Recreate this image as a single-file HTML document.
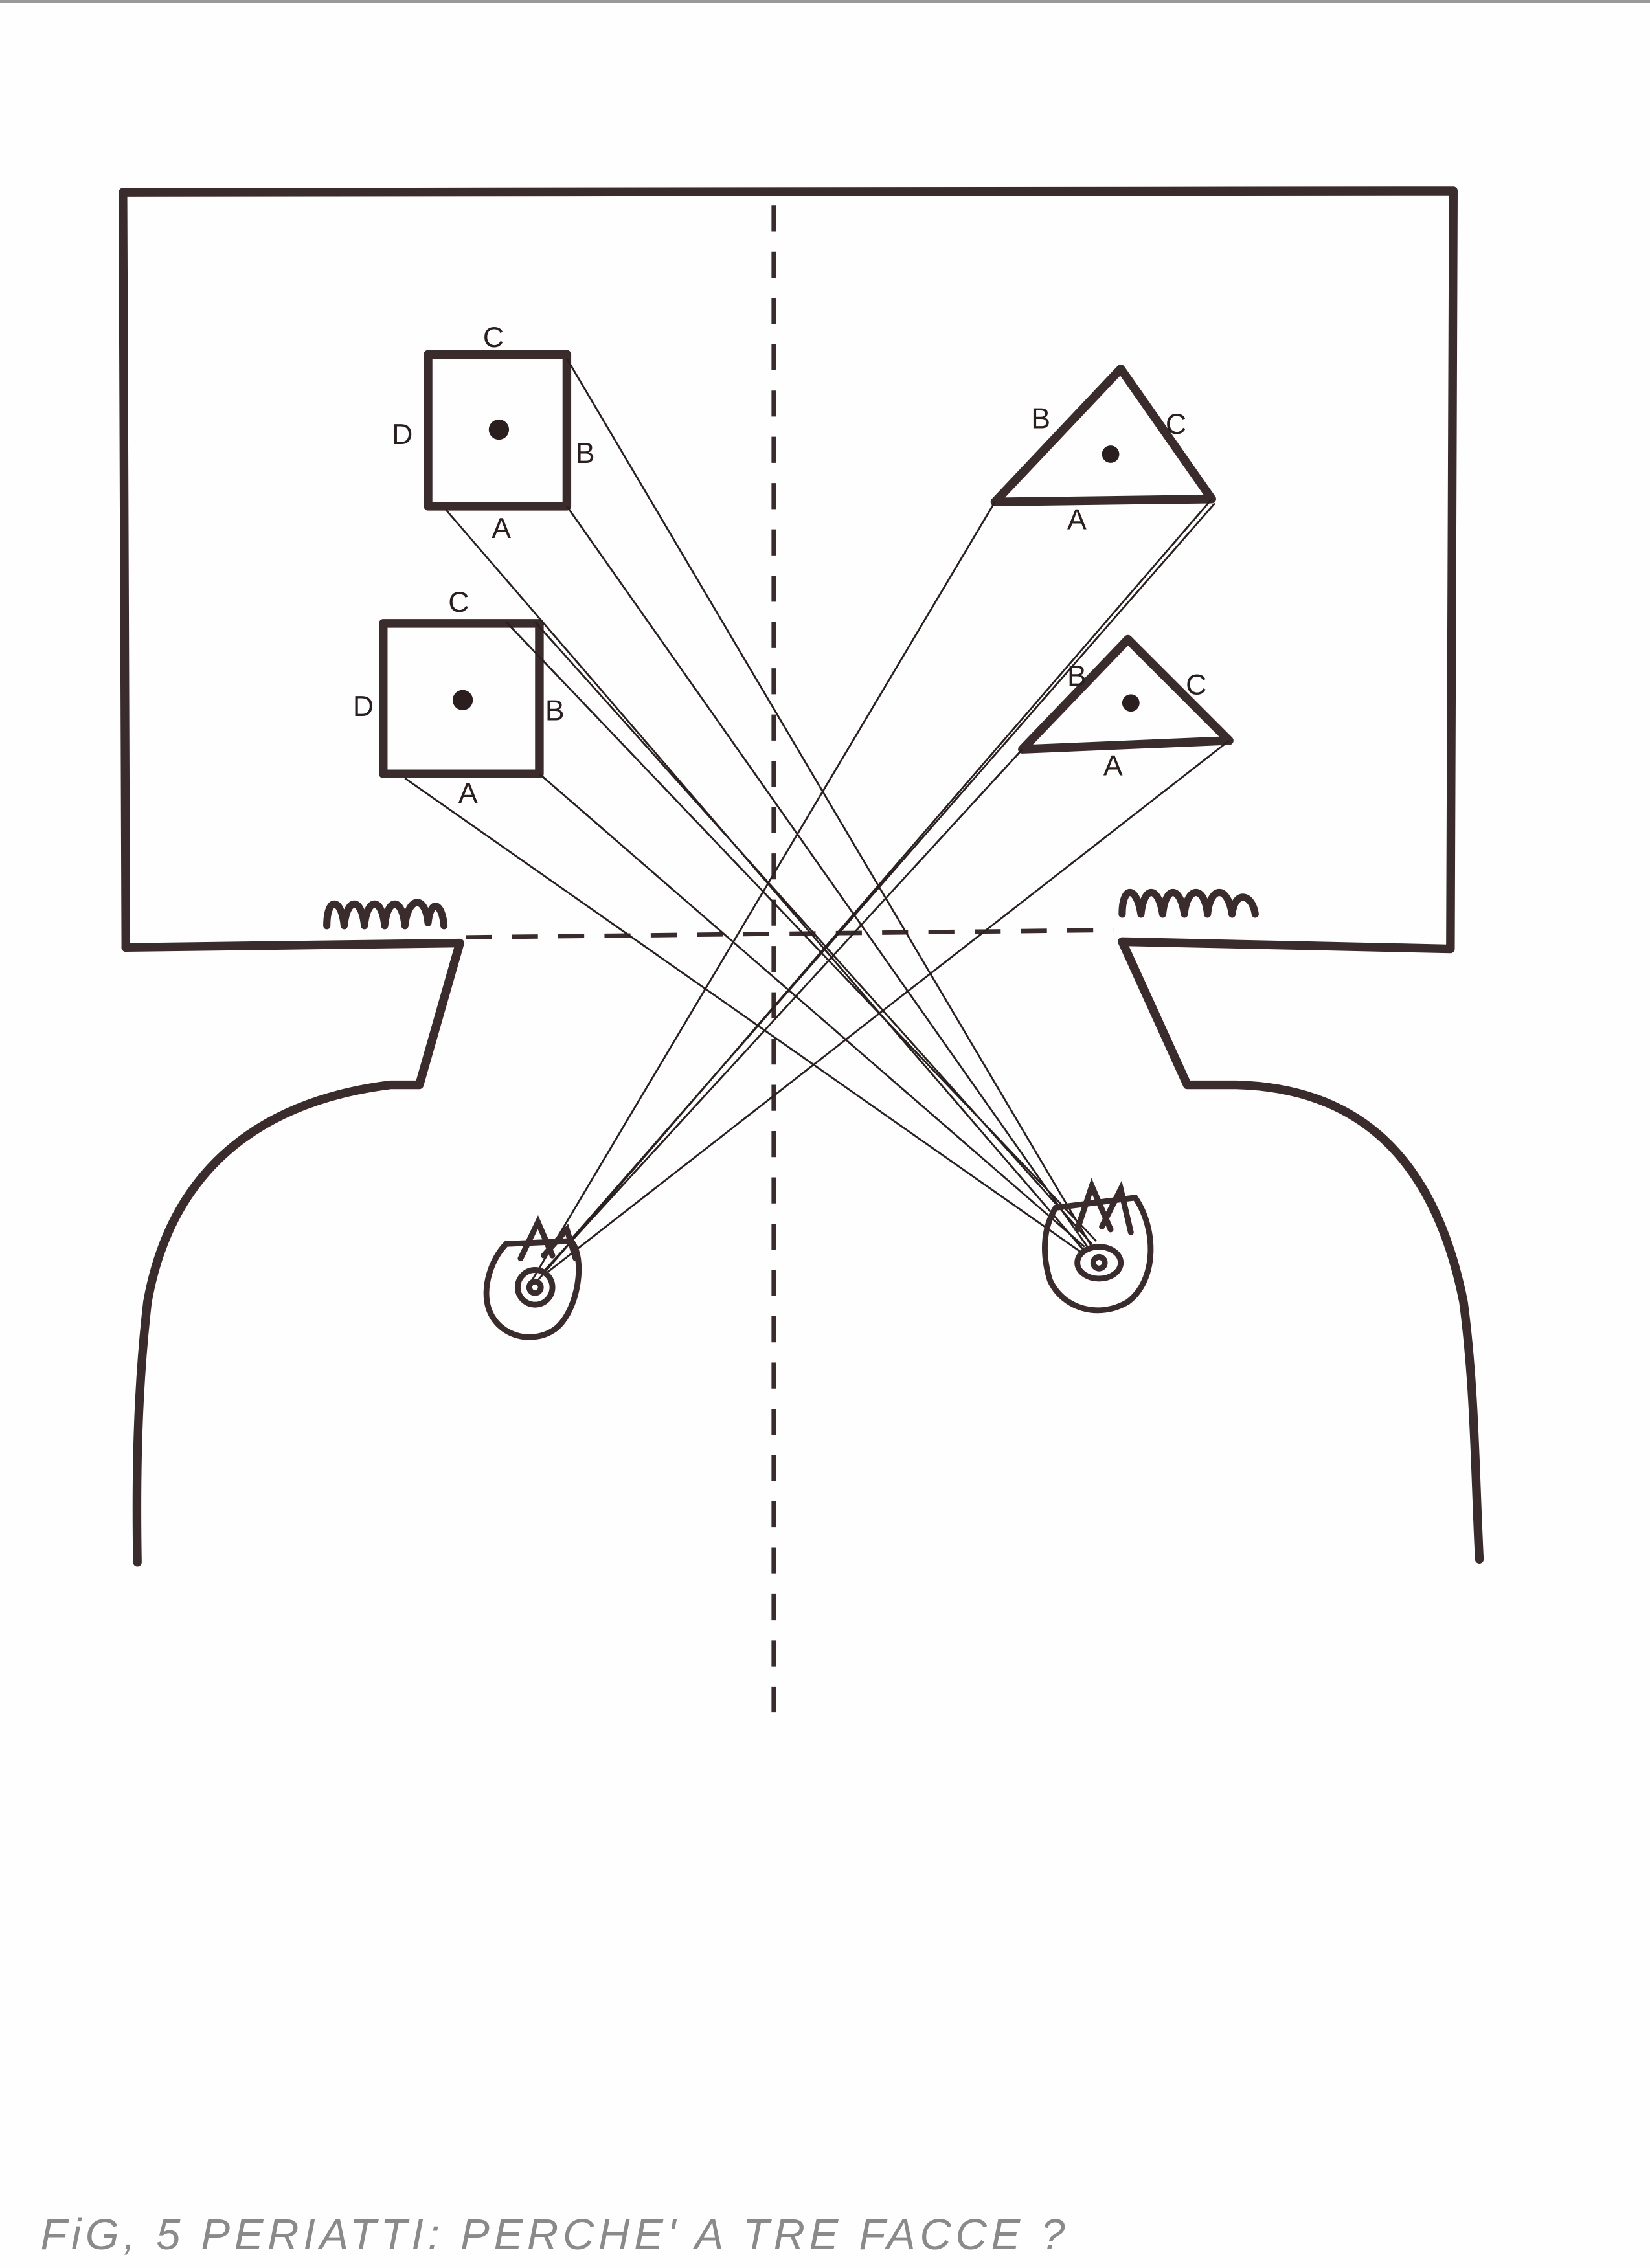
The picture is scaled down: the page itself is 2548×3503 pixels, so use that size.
<!DOCTYPE html>
<html><head><meta charset="utf-8"><style>
html,body{margin:0;padding:0;background:#fff;}
svg{display:block;}
</style></head><body>
<svg width="2548" height="3503" viewBox="0 0 1141 1568" preserveAspectRatio="none" xmlns="http://www.w3.org/2000/svg">
<rect width="1141" height="1568" fill="#fefefe"/>
<line x1="0" y1="1" x2="1141" y2="1" stroke="#999" stroke-width="2"/>
<g fill="none" stroke="#3a2c2c" stroke-width="6" stroke-linecap="round" stroke-linejoin="round">
<path d="M87,655 L85,133 L1005,132 L1003,656 L776,651 L821,750 L855,750 C930,752 990,790 1012,900 C1020,960 1020,1020 1023,1078"/>
<path d="M87,655 L318,652 L290,750 L270,750 C190,760 120,800 102,900 C95,960 94,1020 95,1080"/>
<rect x="296" y="245" width="96" height="105"/>
<rect x="265" y="431" width="108" height="104"/>
<path d="M688,347 L775,255 L838,345 Z"/>
<path d="M707,518 L780,442 L850,512 Z"/>
<path d="M226,640 C226,620 236,620 238,640 C240,620 250,620 252,640 C254,620 264,620 266,640 C268,620 278,620 280,640 C282,620 294,618 296,638 C298,620 306,625 307,640" stroke-width="5"/>
<path d="M776,632 C776,612 786,612 789,632 C791,612 801,612 804,632 C806,612 816,612 819,632 C821,612 833,612 835,632 C837,612 849,612 852,632 C854,615 866,618 868,632" stroke-width="5"/>
</g>
<g fill="#2a1e1e">
<circle cx="345" cy="297" r="7"/><circle cx="320" cy="484" r="7"/>
<circle cx="768" cy="314" r="6"/><circle cx="782" cy="486" r="6"/>
</g>
<g stroke="#3a2c2c" stroke-width="3" stroke-dasharray="18,14" fill="none">
<line x1="535" y1="142" x2="535" y2="1195"/>
<line x1="322" y1="648" x2="770" y2="643"/>
</g>
<g stroke="#2a2020" stroke-width="1.3" fill="none">
<line x1="368" y1="885" x2="688" y2="347"/>
<line x1="372" y1="885" x2="838" y2="345"/>
<line x1="375" y1="880" x2="707" y2="518"/>
<line x1="378" y1="880" x2="850" y2="512"/>
<line x1="394" y1="858" x2="840" y2="348"/>
<line x1="392" y1="248" x2="755" y2="862"/>
<line x1="392" y1="350" x2="752" y2="862"/>
<line x1="308" y1="352" x2="750" y2="865"/>
<line x1="370" y1="430" x2="755" y2="860"/>
<line x1="373" y1="535" x2="750" y2="862"/>
<line x1="280" y1="538" x2="748" y2="866"/>
<line x1="350" y1="430" x2="758" y2="858"/>
</g>
<g fill="none" stroke="#3a2c2c" stroke-width="4" stroke-linecap="round">
<path d="M350,860 L395,858 C405,870 400,905 385,918 C370,930 345,925 338,905 C333,890 340,870 350,860 Z"/>
<circle cx="370" cy="890" r="12"/><circle cx="370" cy="890" r="4"/>
<path d="M360,870 L372,845 L382,868 M376,868 L392,850 L398,870"/>
<path d="M730,835 L785,828 C800,850 800,885 780,900 C760,912 735,905 726,885 C720,865 722,848 730,835 Z"/>
<ellipse cx="760" cy="873" rx="15" ry="11"/><circle cx="760" cy="873" r="4"/>
<path d="M745,850 L755,820 L768,850 M762,848 L775,822 L782,852"/>
</g>
<g font-family="Liberation Sans, sans-serif" font-size="20" fill="#2a1e1e">
<text x="334" y="240">C</text><text x="271" y="307">D</text><text x="398" y="320">B</text><text x="340" y="372">A</text>
<text x="310" y="423">C</text><text x="244" y="495">D</text><text x="377" y="498">B</text><text x="317" y="555">A</text>
<text x="713" y="296">B</text><text x="806" y="300">C</text><text x="738" y="366">A</text>
<text x="738" y="474">B</text><text x="820" y="480">C</text><text x="763" y="536">A</text>
</g>
<text x="28" y="1555" font-family="Liberation Sans, sans-serif" font-size="30" fill="#8a8a8a" letter-spacing="3" font-style="italic">FiG, 5  PERIATTI: PERCHE' A TRE FACCE ?</text>
</svg>
</body></html>
